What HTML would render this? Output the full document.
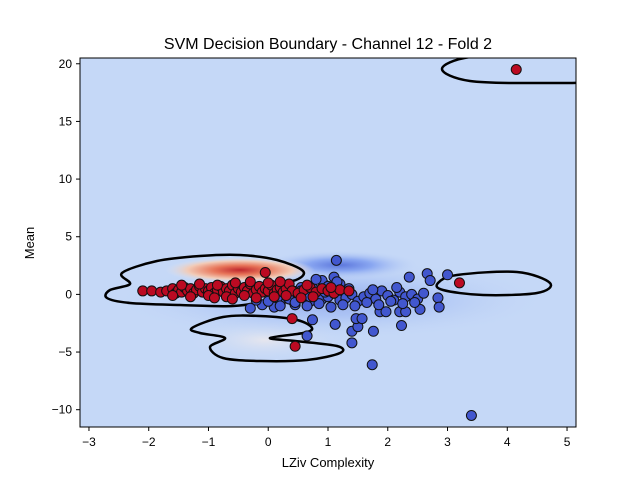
<!DOCTYPE html>
<html><head><meta charset="utf-8"><style>
body{margin:0;background:#fff;}
svg{display:block;font-family:"Liberation Sans","DejaVu Sans",sans-serif;}
</style></head><body>
<svg id="chart" width="640" height="480" viewBox="0 0 640 480">
<defs>
<clipPath id="clip"><rect x="80" y="58" width="496" height="369"/></clipPath>
<radialGradient id="redg" cx="0.5" cy="0.5" r="0.5">
<stop offset="0" stop-color="#c0282d"/><stop offset="0.35" stop-color="#e8765a"/><stop offset="0.7" stop-color="#f2cbb7"/><stop offset="1" stop-color="#dde3f0" stop-opacity="0"/>
</radialGradient>
<radialGradient id="blueg" cx="0.5" cy="0.5" r="0.5">
<stop offset="0" stop-color="#4a66d8"/><stop offset="0.4" stop-color="#7f9ef0"/><stop offset="1" stop-color="#c5d8f7" stop-opacity="0"/>
</radialGradient>
<radialGradient id="paleg" cx="0.5" cy="0.5" r="0.5">
<stop offset="0" stop-color="#e6e6ee"/><stop offset="1" stop-color="#c5d8f7" stop-opacity="0"/>
</radialGradient>
</defs>
<text x="328" y="49" font-size="16" text-anchor="middle">SVM Decision Boundary - Channel 12 - Fold 2</text>
<g clip-path="url(#clip)">
<rect x="80" y="58" width="496" height="369" fill="#c5d8f7"/>
<ellipse cx="265" cy="340" rx="80" ry="22" fill="url(#paleg)"/>
<ellipse cx="330" cy="300" rx="220" ry="40" fill="url(#blueg)" opacity="0.35"/>
<ellipse cx="340" cy="265" rx="80" ry="15" fill="url(#blueg)" opacity="0.85"/>
<ellipse cx="240" cy="270" rx="75" ry="13" fill="url(#redg)"/>
<g id="contours" fill="none" stroke="#000" stroke-width="2.5"></g>
<g id="pts"></g>
</g>
<rect x="80" y="58" width="496" height="369" fill="none" stroke="#000" stroke-width="1"/>
<g id="axes" font-size="12"></g>
<text x="328" y="467" font-size="13" text-anchor="middle">LZiv Complexity</text>
<text transform="translate(34,243) rotate(-90)" font-size="13" text-anchor="middle">Mean</text>
</svg>
<script>
const xTicks=[-3,-2,-1,0,1,2,3,4,5];
const yTicks=[-10,-5,0,5,10,15,20];
const redX=[4.15,3.2,-0.05,0.45,0.4,-2.1,-1.95,-1.8,-1.7,-1.6,-1.55,-1.5,-1.45,-1.4,-1.35,-1.3,-1.25,-1.2,-1.15,-1.1,-1.05,-1.0,-0.95,-0.9,-0.85,-0.8,-0.75,-0.7,-0.65,-0.6,-0.55,-0.5,-0.45,-0.4,-0.35,-0.3,-0.25,-0.2,-0.15,-0.1,-0.05,0.0,0.05,0.1,0.15,0.2,0.25,0.3,0.35,0.4,0.5,0.6,0.7,0.8,0.9,1.0,1.1,1.2,1.35,-1.6,-1.3,-1.0,-0.7,-0.4,-0.2,0.1,0.3,0.55,0.75,-1.45,-1.15,-0.85,-0.55,-0.3,0.0,0.2,0.65,1.05,-0.9,-0.6];
const redY=[19.5,1.0,1.9,-4.5,-2.1,0.3,0.3,0.2,0.3,0.5,0.1,0.4,0.2,0.6,0.3,0.5,0.1,0.4,0.7,0.2,0.5,0.3,0.6,0.1,0.4,0.7,0.2,0.5,0.3,0.8,0.1,0.5,0.2,0.6,0.3,0.9,0.1,0.4,0.7,0.2,0.5,0.3,0.8,0.1,0.4,0.6,0.2,0.5,0.9,0.3,0.1,0.4,0.6,0.2,0.5,0.3,0.1,0.4,0.3,-0.1,-0.2,-0.1,-0.2,-0.1,-0.3,-0.2,-0.1,-0.3,-0.2,0.8,0.9,0.8,1.0,1.1,1.0,1.1,0.8,0.6,-0.3,-0.4];
const blueX=[1.14,2.36,2.66,2.71,3.0,2.84,2.86,1.74,3.4,1.4,1.76,2.23,1.4,1.5,1.47,1.57,1.12,0.74,0.65,1.87,1.97,2.2,2.3,2.54,0.3,0.4,0.5,0.6,0.7,0.8,0.9,1.0,1.1,1.2,1.3,1.4,1.5,1.6,1.7,1.8,1.9,2.0,2.1,2.2,2.3,2.4,2.5,2.6,0.45,0.65,0.85,1.05,1.25,1.45,1.65,1.85,2.05,2.25,2.45,0.55,0.95,1.35,1.75,2.15,1.1,0.9,1.2,0.2,0.1,-0.1,-0.3,-0.2,0.0,0.15,0.25,0.35,0.55,0.75,0.95,0.2,0.45,0.7,1.15,1.0,0.8];
const blueY=[2.95,1.5,1.8,1.2,1.7,-0.3,-1.1,-6.1,-10.5,-4.2,-3.2,-2.7,-3.2,-2.8,-2.1,-2.1,-2.6,-2.2,-3.6,-1.5,-1.5,-1.5,-1.5,-1.3,-0.2,-0.5,0.1,-0.3,-0.6,0.0,-0.4,-0.2,0.1,-0.5,-0.3,0.0,-0.6,-0.2,0.1,-0.4,0.3,-0.1,-0.5,0.2,-0.2,0.0,-0.4,0.1,-0.9,-1.0,-0.8,-1.1,-0.9,-1.0,-0.7,-0.9,-0.6,-0.8,-0.7,0.6,0.8,0.5,0.4,0.6,1.5,1.2,0.9,-0.8,-1.1,-0.9,-1.2,-0.5,-0.6,-0.3,0.2,-0.4,0.3,0.5,0.2,-1.0,-0.7,-0.2,1.1,0.7,1.3];
const X0=80,X1=576,Y0=58,Y1=427,xmin=-3.15,xmax=5.15,ymin=-11.5,ymax=20.5;
const sx=v=>X0+(v-xmin)/(xmax-xmin)*(X1-X0);
const sy=v=>Y1-(v-ymin)/(ymax-ymin)*(Y1-Y0);
const NS="http://www.w3.org/2000/svg";
function mk(t,a,p){const e=document.createElementNS(NS,t);for(const k in a)e.setAttribute(k,a[k]);p.appendChild(e);return e;}
const axes=document.getElementById('axes');
xTicks.forEach(v=>{const x=sx(v);
const l=mk('line',{x1:x,x2:x,y1:427,y2:431,stroke:'#000'},axes);


const t=mk('text',{x:x,y:446,'text-anchor':'middle'},axes);t.textContent=v<0?'\u2212'+(-v):v;

});
yTicks.forEach(v=>{const y=sy(v);
const l=mk('line',{x1:76,x2:80,y1:y,y2:y,stroke:'#000'},axes);


const t=mk('text',{x:72,y:y+4,'text-anchor':'end'},axes);t.textContent=v<0?'\u2212'+(-v):v;

});
function smooth(p){let d='M'+p[0][0]+','+p[0][1];const n=p.length;
for(let i=0;i<n;i++){const a=p[(i-1+n)%n],b=p[i],c=p[(i+1)%n],e=p[(i+2)%n];
d+=' C'+(b[0]+(c[0]-a[0])/6)+','+(b[1]+(c[1]-a[1])/6)+' '+(c[0]-(e[0]-b[0])/6)+','+(c[1]-(e[1]-b[1])/6)+' '+c[0]+','+c[1];}
return d+'Z';}
const cg=document.getElementById('contours');
const shapes=[
[[122,273],[157,261],[200,256],[240,255],[277,260],[303,271],[296,280],[272,284],[300,289],[270,300],[233,306],[180,305],[130,303],[107,298],[110,290],[130,284]],
[[192,328],[223,317],[260,316],[297,320],[312,328],[303,333],[270,338],[295,341],[337,346],[340,353],[307,360],[260,361],[223,358],[210,347],[225,338],[200,333]],
[[438,283],[457,275],[517,272],[550,283],[537,293],[483,295],[443,290]],
[[442,69],[470,57],[540,55],[600,60],[600,80],[540,83],[470,81]]];
shapes.forEach(s=>{const p=mk('path',{d:smooth(s)},cg);

});
const pg=document.getElementById('pts');
blueX.forEach((v,i)=>{const c=mk('circle',{cx:sx(v),cy:sy(blueY[i]),r:5,fill:'#4257cf',stroke:'#111','stroke-width':1},pg);

});
redX.forEach((v,i)=>{const c=mk('circle',{cx:sx(v),cy:sy(redY[i]),r:5,fill:'#bb0a22',stroke:'#111','stroke-width':1},pg);

});
</script>
</body></html>
